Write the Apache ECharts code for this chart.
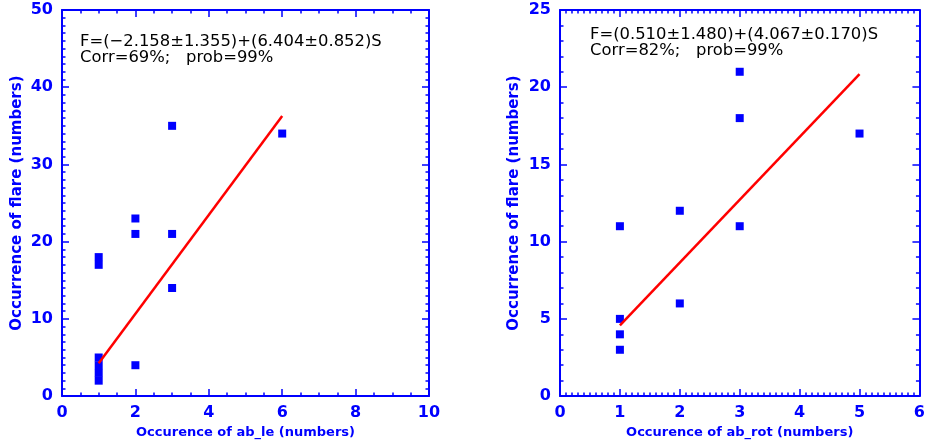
<!DOCTYPE html>
<html>
<head>
<meta charset="utf-8">
<script src="https://cdn.jsdelivr.net/npm/echarts@6/dist/echarts.min.js"></script>
<style>
  html, body { margin: 0; padding: 0; background: #fff; }
  #chart { width: 928px; height: 444px; }
</style>
</head>
<body>
<div id="chart"></div>
<script>
// left panel: ab_le vs flare
const leX = [1, 1, 1, 1, 1, 1, 2, 2, 2, 3, 3, 3, 6]
const leY = [2, 3, 4, 5, 17, 18, 4, 21, 23, 14, 21, 35, 34]
const leFit = [[1, 4.25], [6, 36.27]]
const leText = ['F=(\u22122.158\u00b11.355)+(6.404\u00b10.852)S', 'Corr=69%;   prob=99%']

// right panel: ab_rot vs flare
const rotX = [1, 1, 1, 1, 2, 2, 3, 3, 3, 5]
const rotY = [3, 4, 5, 11, 6, 12, 11, 18, 21, 17]
const rotFit = [[1, 4.58], [5, 20.85]]
const rotText = ['F=(0.510\u00b11.480)+(4.067\u00b10.170)S', 'Corr=82%;   prob=99%']

const BLUE = '#0000ff'
const FONT = 'DejaVu Sans'

const pairs = (xs, ys) => xs.map((x, i) => [x, ys[i]])

const axis = (pos, gridIndex, min, max, interval, minorSplit, name, nameGap) => ({
    type: 'value',
    gridIndex,
    position: pos,
    min, max, interval,
    name: name || '',
    nameLocation: 'middle',
    nameGap: nameGap || 0,
    nameTextStyle: { color: BLUE, fontFamily: FONT, fontWeight: 'bold', fontSize: (pos === 'left') ? 15 : 13 },
    splitLine: { show: false },
    axisLine: { show: true, onZero: false, lineStyle: { color: BLUE, width: 2 } },
    axisTick: { show: true, inside: true, length: 7, lineStyle: { color: BLUE, width: 1.5 } },
    minorTick: { show: true, splitNumber: minorSplit, length: 3.5, lineStyle: { color: BLUE, width: 1.5 } },
    axisLabel: {
        show: pos === 'left' || pos === 'bottom',
        color: BLUE, fontFamily: FONT, fontWeight: 'bold', fontSize: 16, margin: 9
    }
})

const textBlock = (lines, left, top) => ({
    type: 'text',
    left, top,
    style: { text: lines.join('\n'), fill: '#000', font: '16.4px "DejaVu Sans"', lineHeight: 16 }
})

const option = {
    animation: false,
    grid: [
        { left: 62, top: 10, width: 367, height: 389 },
        { left: 560, top: 10, width: 366, height: 389 }
    ],
    xAxis: [
        axis('bottom', 0, 0, 10, 2, 4, 'Occurence of ab_le (numbers)', 26),
        axis('top', 0, 0, 10, 2, 4),
        axis('bottom', 1, 0, 6, 1, 10, 'Occurence of ab_rot (numbers)', 26),
        axis('top', 1, 0, 6, 1, 10)
    ],
    yAxis: [
        axis('left', 0, 0, 50, 10, 10, 'Occurrence of flare (numbers)', 37),
        axis('right', 0, 0, 50, 10, 10),
        axis('left', 1, 0, 25, 5, 5, 'Occurrence of flare (numbers)', 38),
        axis('right', 1, 0, 25, 5, 5)
    ],
    series: [
        {
            type: 'scatter', xAxisIndex: 0, yAxisIndex: 0,
            data: pairs(leX, leY), symbol: 'rect', symbolSize: 8,
            itemStyle: { color: BLUE, opacity: 1 }
        },
        {
            type: 'line', xAxisIndex: 0, yAxisIndex: 0,
            data: leFit, symbol: 'none',
            lineStyle: { color: '#ff0000', width: 2.5 }
        },
        {
            type: 'scatter', xAxisIndex: 2, yAxisIndex: 2,
            data: pairs(rotX, rotY), symbol: 'rect', symbolSize: 8,
            itemStyle: { color: BLUE, opacity: 1 }
        },
        {
            type: 'line', xAxisIndex: 2, yAxisIndex: 2,
            data: rotFit, symbol: 'none',
            lineStyle: { color: '#ff0000', width: 2.5 }
        }
    ],
    graphic: [
        textBlock(leText, 80, 34),
        textBlock(rotText, 590, 27)
    ]
}

const chart = echarts.init(document.getElementById('chart'))
chart.setOption(option)
</script>
</body>
</html>
